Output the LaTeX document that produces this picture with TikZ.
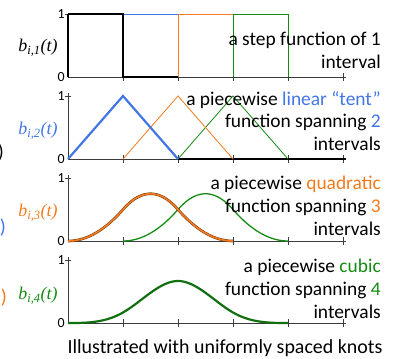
\documentclass[tikz,border=0pt]{standalone}
\usepackage{fontspec}
\setmainfont{Carlito}
\newfontfamily\labfont{Liberation Serif}
\usepackage{tikz}
\usetikzlibrary{positioning}
\definecolor{knotblue}{RGB}{66,118,230}
\definecolor{knotorange}{RGB}{245,122,30}
\definecolor{knotgreen}{RGB}{20,140,20}
\definecolor{axisgray}{RGB}{60,60,60}

\begin{document}
\begin{tikzpicture}[
    x=1bp, y=1bp,
    axis/.style={axisgray, line width=0.9bp},
    main/.style={line width=2.2bp},
    other/.style={line width=0.8bp},
    blabel/.style={font=\labfont\itshape\fontsize{18}{20}\selectfont, anchor=center},
    num/.style={font=\fontsize{14}{15}\selectfont, anchor=east, inner sep=0pt, xshift=-3bp},
    note/.style={font=\fontsize{19.5}{23}\selectfont, align=right, anchor=east, inner sep=0pt},
    cut/.style={font=\fontsize{20}{22}\selectfont, anchor=east, inner sep=0pt}
]
    \useasboundingbox (0,0) rectangle (400,359);

    % axes of the four panels (knots every 55bp, height 63bp)
    \foreach \base/\top in {282/1.0, 200/1.05, 118/1.05, 36/1.05}{
        \begin{scope}[shift={(68,\base)}, x=55bp, y=63bp]
            \draw[axis] (0,0) -- (5.05,0);
            \draw[axis] (0,0) -- (0,\top);
            \draw[axis] (-0.06,1) -- (0.06,1);
            \foreach \k in {1,...,5}
                \draw[axis] (\k,-0.06) -- (\k,0.06);
            \node[num] at (0,1) {1};
            \node[num] at (0,0) {0};
        \end{scope}
    }

    % step functions
    \begin{scope}[shift={(68,282)}, x=55bp, y=63bp]
        \draw[other, knotgreen] (3,0) -- (3,1) -- (4,1) -- (4,0);
        \draw[other, knotorange] (2,0) -- (2,1) -- (3,1);
        \draw[other, knotblue] (1,0) -- (1,1) -- (2,1);
        \draw[line width=1.8bp, black] (0,1) -- (1,1) -- (1,0) -- (2,0);
        \draw[line width=1.4bp] (0,0) -- (0,1);
    \end{scope}

    % linear tents
    \begin{scope}[shift={(68,200)}, x=55bp, y=63bp]
        \draw[line width=1.4bp] (2,0) -- (5.05,0);
        \draw[other, knotgreen] (2,0) -- (3,1) -- (4,0);
        \draw[other, knotorange] (1,0) -- (2,1) -- (3,0);
        \draw[main, knotblue] (0,0) -- (1,1) -- (2,0);
    \end{scope}

    % quadratic pieces
    \begin{scope}[shift={(68,118)}, x=55bp, y=63bp]
        \draw[line width=1.3bp, knotgreen] plot[domain=0:1, samples=25, smooth] (\x+1,{\x*\x/2})
            -- plot[domain=1:2, samples=25, smooth] (\x+1,{(-2*\x*\x+6*\x-3)/2})
            -- plot[domain=2:3, samples=25, smooth] (\x+1,{(3-\x)*(3-\x)/2});
        \draw[line width=2.6bp, black!55!knotorange] plot[domain=0:1, samples=25, smooth] (\x,{\x*\x/2})
            -- plot[domain=1:2, samples=25, smooth] (\x,{(-2*\x*\x+6*\x-3)/2})
            -- plot[domain=2:3, samples=25, smooth] (\x,{(3-\x)*(3-\x)/2});
        \draw[line width=1.6bp, knotorange] plot[domain=0:1, samples=25, smooth] (\x,{\x*\x/2})
            -- plot[domain=1:2, samples=25, smooth] (\x,{(-2*\x*\x+6*\x-3)/2})
            -- plot[domain=2:3, samples=25, smooth] (\x,{(3-\x)*(3-\x)/2});
    \end{scope}

    % cubic pieces
    \begin{scope}[shift={(68,36)}, x=55bp, y=63bp]
        \draw[line width=2.2bp, knotgreen!80!black] plot[domain=0:1, samples=25, smooth] (\x,{\x*\x*\x/6})
            -- plot[domain=1:2, samples=25, smooth] (\x,{(-3*\x*\x*\x+12*\x*\x-12*\x+4)/6})
            -- plot[domain=2:3, samples=25, smooth] (\x,{(3*\x*\x*\x-24*\x*\x+60*\x-44)/6})
            -- plot[domain=3:4, samples=25, smooth] (\x,{(4-\x)*(4-\x)*(4-\x)/6});
    \end{scope}

    % panel labels
    \node[blabel] (b1) at (38,311) {b\textsubscript{i,1}(t)};
    \node[blabel, knotblue] (b2) at (38,228) {b\textsubscript{i,2}(t)};
    \node[blabel, knotorange] (b3) at (38,146) {b\textsubscript{i,3}(t)};
    \node[blabel, knotgreen] (b4) at (38,63) {b\textsubscript{i,4}(t)};

    % descriptions
    \node[note] (n1) at (381,308.5) {a step function of 1\\interval};
    \node[note] (n2) at (381,238) {a piecewise \textcolor{knotblue}{linear “tent”}\\function spanning \textcolor{knotblue}{2}\\intervals};
    \node[note] (n3) at (381,153) {a piecewise \textcolor{knotorange}{quadratic}\\function spanning \textcolor{knotorange}{3}\\intervals};
    \node[note] (n4) at (381,70.5) {a piecewise \textcolor{knotgreen}{cubic}\\function spanning \textcolor{knotgreen}{4}\\intervals};

    % cut-off brackets at the left edge
    \node[cut] (c1) at (4,206) {)};
    \node[cut, knotblue] (c2) at (6,131) {)};
    \node[cut, knotorange] (c3) at (7,61) {)};

    \node[font=\fontsize{20}{22}\selectfont] (cap) at (225,11) {Illustrated with uniformly spaced knots};
\end{tikzpicture}
\end{document}
